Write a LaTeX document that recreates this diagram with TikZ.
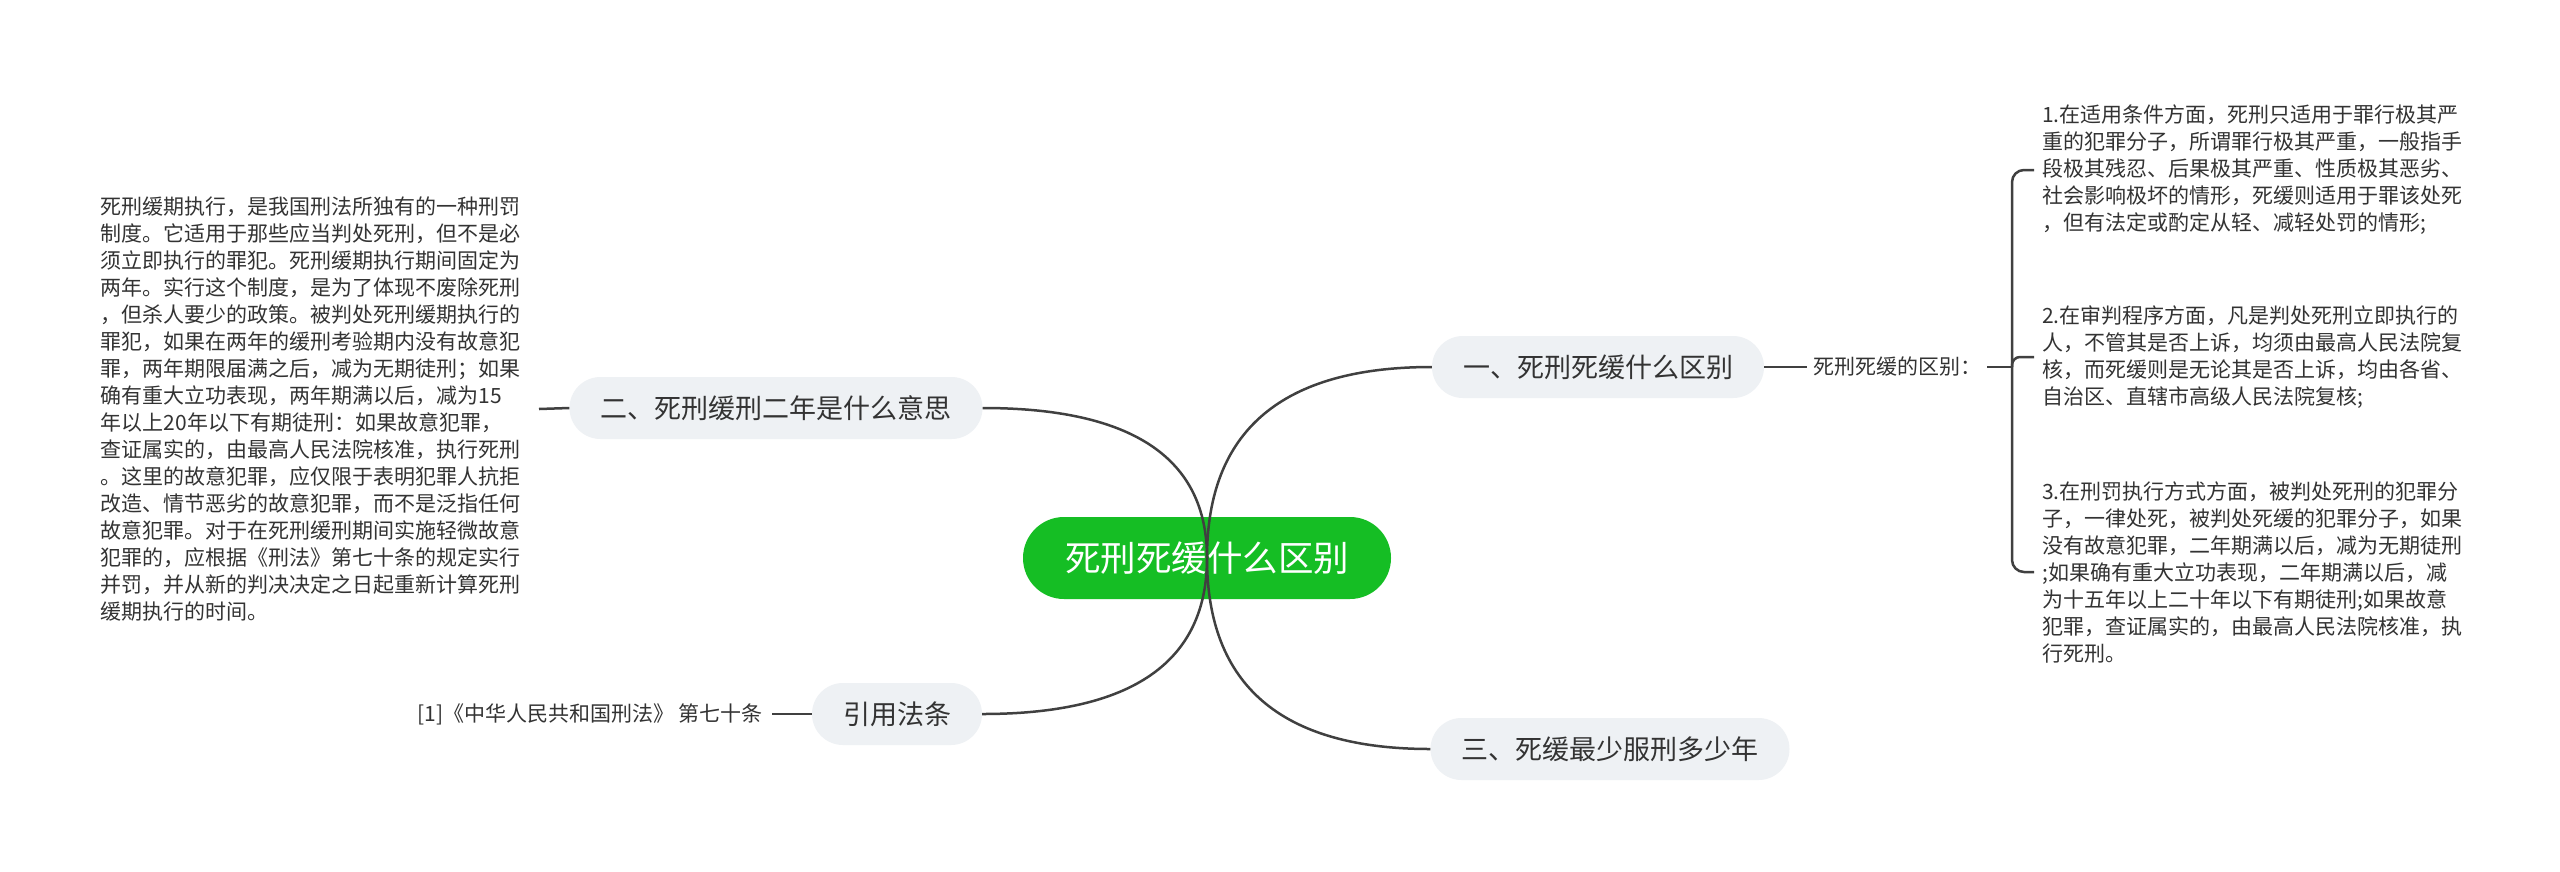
\documentclass[tikz,border=0pt]{standalone}
\usepackage{fontspec}
\setmainfont{Noto Sans CJK SC}
\usetikzlibrary{calc}
\definecolor{lineC}{HTML}{404040}
\definecolor{nodeF}{HTML}{EEF1F4}
\definecolor{rootF}{HTML}{15BE24}
\definecolor{txtC}{HTML}{333333}
\begin{document}
\begin{tikzpicture}[x=1pt,y=-1pt,
  topic/.style={rectangle, rounded corners=31pt, fill=nodeF, text=txtC,
    font=\fontsize{27}{32}\selectfont, minimum height=62pt, inner xsep=31pt, inner ysep=0pt},
  rootnode/.style={rectangle, rounded corners=41pt, fill=rootF, text=white,
    font=\fontsize{35.5}{40}\selectfont, minimum height=82pt, inner xsep=42pt, inner ysep=0pt},
  blk/.style={align=left, text=txtC, font=\fontsize{21}{27}\selectfont, inner ysep=0pt},
  conn/.style={draw=lineC, line width=2.5pt}]
\useasboundingbox (0,0) rectangle (2560,871);
\fill[white] (0,0) rectangle (2560,871);

\node[rootnode] (root) at (1207,558) {死刑死缓什么区别};
\node[topic] (n1) at (1598,367) {一、死刑死缓什么区别};
\node[topic] (n2) at (776,408) {二、死刑缓刑二年是什么意思};
\node[topic] (n3) at (1610,749) {三、死缓最少服刑多少年};
\node[topic] (n4) at (897,714) {引用法条};

\node[blk, inner xsep=6pt] (lab) at (1897,367) {死刑死缓的区别：};

\node[blk, anchor=west, inner xsep=8pt] (b1) at (2034,170) {1.在适用条件方面，死刑只适用于罪行极其严\\重的犯罪分子，所谓罪行极其严重，一般指手\\段极其残忍、后果极其严重、性质极其恶劣、\\社会影响极坏的情形，死缓则适用于罪该处死\\，但有法定或酌定从轻、减轻处罚的情形;};
\node[blk, anchor=west, inner xsep=8pt] (b2) at (2034,357) {2.在审判程序方面，凡是判处死刑立即执行的\\人，不管其是否上诉，均须由最高人民法院复\\核，而死缓则是无论其是否上诉，均由各省、\\自治区、直辖市高级人民法院复核;};
\node[blk, anchor=west, inner xsep=8pt] (b3) at (2034,572) {3.在刑罚执行方式方面，被判处死刑的犯罪分\\子，一律处死，被判处死缓的犯罪分子，如果\\没有故意犯罪，二年期满以后，减为无期徒刑\\;如果确有重大立功表现，二年期满以后，减\\为十五年以上二十年以下有期徒刑;如果故意\\犯罪，查证属实的，由最高人民法院核准，执\\行死刑。};

\node[blk, anchor=east, inner xsep=18pt] (lb) at (539,409) {死刑缓期执行，是我国刑法所独有的一种刑罚\\制度。它适用于那些应当判处死刑，但不是必\\须立即执行的罪犯。死刑缓期执行期间固定为\\两年。实行这个制度，是为了体现不废除死刑\\，但杀人要少的政策。被判处死刑缓期执行的\\罪犯，如果在两年的缓刑考验期内没有故意犯\\罪，两年期限届满之后，减为无期徒刑；如果\\确有重大立功表现，两年期满以后，减为15\\年以上20年以下有期徒刑：如果故意犯罪，\\查证属实的，由最高人民法院核准，执行死刑\\。这里的故意犯罪，应仅限于表明犯罪人抗拒\\改造、情节恶劣的故意犯罪，而不是泛指任何\\故意犯罪。对于在死刑缓刑期间实施轻微故意\\犯罪的，应根据《刑法》第七十条的规定实行\\并罚，并从新的判决决定之日起重新计算死刑\\缓期执行的时间。};

\node[blk, anchor=east, inner xsep=9pt] (ref) at (772,714) {[1]《中华人民共和国刑法》 第七十条};

% curves from root
\coordinate (k1) at (root.center |- n1.west);
\coordinate (k2) at (root.center |- n2.east);
\coordinate (k3) at (root.center |- n3.west);
\coordinate (k4) at (root.center |- n4.east);
\draw[conn] (root.center) .. controls ($(root.center)!0.667!(k1)$) and ($(n1.west)!0.667!(k1)$) .. (n1.west);
\draw[conn] (root.center) .. controls ($(root.center)!0.667!(k2)$) and ($(n2.east)!0.667!(k2)$) .. (n2.east);
\draw[conn] (root.center) .. controls ($(root.center)!0.667!(k3)$) and ($(n3.west)!0.667!(k3)$) .. (n3.west);
\draw[conn] (root.center) .. controls ($(root.center)!0.667!(k4)$) and ($(n4.east)!0.667!(k4)$) .. (n4.east);

% short connectors
\draw[conn] (n1.east) -- (lab.west);
\draw[conn] (n2.west) -- (lb.east);
\draw[conn] (n4.west) -- (ref.east);

% brace
\coordinate (br) at (2012,367);
\draw[conn] (lab.east) -- (br);
\draw[conn, rounded corners=12pt] (b1.west) -| (br) |- (b3.west);
\draw[conn, rounded corners=8pt] (br) |- (b2.west);
\end{tikzpicture}
\end{document}
